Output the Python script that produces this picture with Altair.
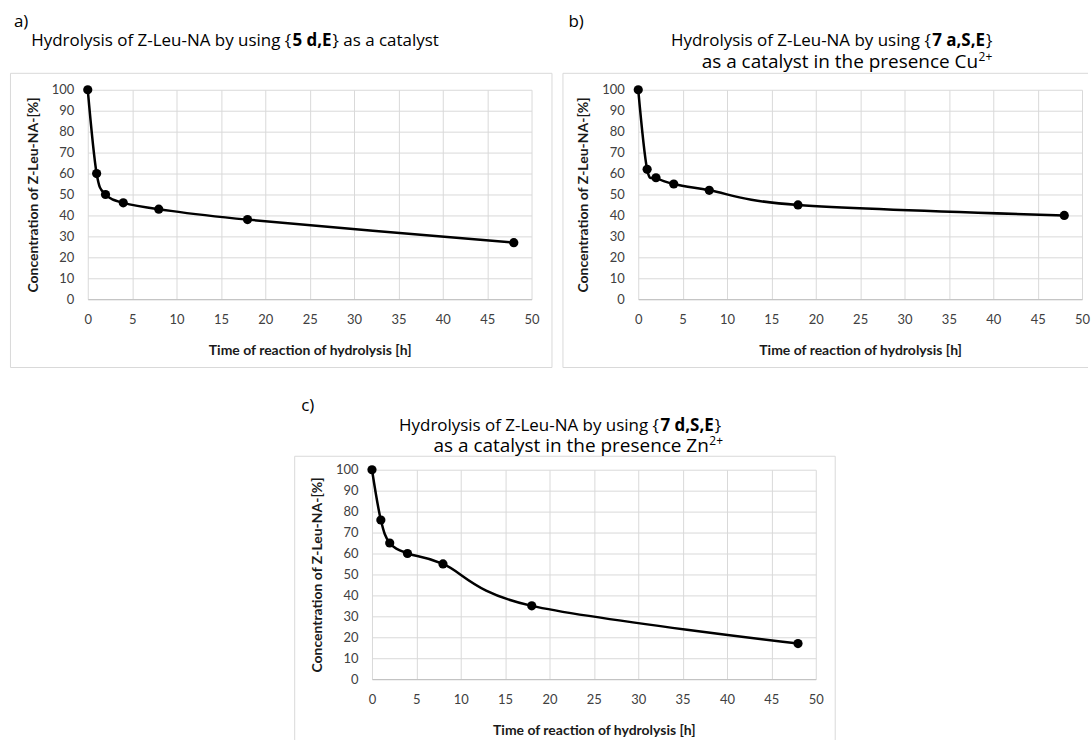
import altair as alt
import pandas as pd

# Hydrolysis time points [h] and remaining substrate concentration [%]
hours = [0, 1, 2, 4, 8, 18, 48]
conc_5dE = [100, 60, 50, 46, 43, 38, 27]
conc_7aSE_cu = [100, 62, 58, 55, 52, 45, 40]
conc_7dSE_zn = [100, 76, 65, 60, 55, 35, 17]

x_ticks = [0, 5, 10, 15, 20, 25, 30, 35, 40, 45, 50]
y_ticks = [0, 10, 20, 30, 40, 50, 60, 70, 80, 90, 100]

X_TITLE = "Time of reaction of hydrolysis [h]"
Y_TITLE = "Concentration of Z-Leu-NA-[%]"

PLOT_W, PLOT_H = 445, 210
TITLE_FONT = "Open Sans"
AXIS_FONT = "Lato"
BOX_COLOR = "#d9d9d9"
T1, T2, SUP = 17, 19, 12

ONE = pd.DataFrame({"k": [0]})

# Open Sans advance widths (units per 2048 em) used to butt text runs together
_REG = {" ": 532, ",": 502, "{": 760, "}": 760, "2": 1171, "+": 1171}
_BOLD = {" ": 532, ",": 586, "5": 1171, "7": 1171, "E": 1182, "S": 1149,
         "a": 1221, "d": 1300}


def run_width(s, size, bold=False):
    table = _BOLD if bold else _REG
    return sum(table.get(ch, 1150) for ch in s) * size / 2048.0


def text(origin, x, y, s, size=T1, weight="normal", align="left"):
    ox, oy = origin
    return alt.Chart(ONE).mark_text(
        align=align, baseline="alphabetic", fontSize=size,
        fontWeight=weight, font=TITLE_FONT, color="#000000",
    ).encode(x=alt.value(x - ox), y=alt.value(y - oy), text=alt.value(s))


def headline(origin, right, y, bold_part, tail="}", tail_width=None):
    # "Hydrolysis ... {" + bold compound + tail, right-aligned at `right`
    if tail_width is None:
        tail_width = run_width(tail, T1)
    end_bold = right - tail_width - 1
    start_bold = end_bold - run_width(bold_part, T1, bold=True) - 1
    return [
        text(origin, right, y, tail, align="right"),
        text(origin, end_bold, y, bold_part, weight="bold", align="right"),
        text(origin, start_bold, y, "Hydrolysis of Z-Leu-NA by using {",
             align="right"),
    ]


def second_line(origin, right, y, body):
    w_sup = run_width("2+", SUP)
    return [
        text(origin, right, y - 7, "2+", size=SUP, align="right"),
        text(origin, right - w_sup - 0.5, y, body, size=T2, align="right"),
    ]


def rule(origin, x1, y1, x2, y2):
    ox, oy = origin
    return alt.Chart(ONE).mark_rule(color=BOX_COLOR, strokeWidth=1).encode(
        x=alt.value(x1 - ox), x2=alt.value(x2 - ox),
        y=alt.value(y1 - oy), y2=alt.value(y2 - oy),
    )


def cell(origin, x1, y1, x2, y2):
    # invisible rectangle that fixes the extent of a panel in the layout
    ox, oy = origin
    return alt.Chart(ONE).mark_rect(opacity=0).encode(
        x=alt.value(x1 - ox), x2=alt.value(x2 - ox),
        y=alt.value(y1 - oy), y2=alt.value(y2 - oy),
    )


def curve(values):
    df = pd.DataFrame({"t": hours, "c": values})
    x = alt.X("t:Q", scale=alt.Scale(domain=[0, 50], nice=False),
              axis=alt.Axis(values=x_ticks, title=X_TITLE, labelPadding=14,
                            titlePadding=17, labelFlush=False,
                            labelOverlap=False))
    y = alt.Y("c:Q", scale=alt.Scale(domain=[0, 100], nice=False),
              axis=alt.Axis(values=y_ticks, title=Y_TITLE, domain=False,
                            labelPadding=14, titlePadding=11,
                            labelOverlap=False, labelFlush=False))
    base = alt.Chart(df)
    line = base.mark_line(interpolate="cardinal", color="#000000",
                          strokeWidth=2.5).encode(x=x, y=y)
    dots = base.mark_circle(size=85, color="#000000", opacity=1).encode(
        x=x, y=y)
    return [line, dots]


# panel a
oa = (87, 88)
TAIL_A = "} as a catalyst"
panel_a = alt.layer(
    cell(oa, 0, 0, 557, 380),
    rule(oa, 9.5, 71.5, 552.5, 71.5),
    rule(oa, 9.5, 366.5, 552.5, 366.5),
    rule(oa, 9.5, 71.5, 9.5, 366.5),
    rule(oa, 552.5, 71.5, 552.5, 366.5),
    text(oa, 13, 25, "a)"),
    *headline(oa, 439, 44, "5 d,E", tail=TAIL_A, tail_width=106.5 * T1 / 17),
    *curve(conc_5dE),
).properties(width=PLOT_W, height=PLOT_H)

# panel b
ob = (637, 88)
panel_b = alt.layer(
    cell(ob, 557, 0, 1088, 380),
    rule(ob, 561.5, 71.5, 1088, 71.5),
    rule(ob, 561.5, 366.5, 1088, 366.5),
    rule(ob, 561.5, 71.5, 561.5, 366.5),
    text(ob, 567, 25, "b)"),
    *headline(ob, 992, 44, "7 a,S,E"),
    *second_line(ob, 992, 66, "as a catalyst in the presence Cu"),
    *curve(conc_7aSE_cu),
).properties(width=PLOT_W, height=PLOT_H)

# panel c
oc = (370, 467)
panel_c = alt.layer(
    cell(oc, 88, 380, 840, 738),
    rule(oc, 292.5, 453.5, 834.5, 453.5),
    rule(oc, 292.5, 453.5, 292.5, 738),
    rule(oc, 834.5, 453.5, 834.5, 738),
    text(oc, 299, 408, "c)"),
    *headline(oc, 720, 428, "7 d,S,E"),
    *second_line(oc, 722, 449, "as a catalyst in the presence Zn"),
    *curve(conc_7dSE_zn),
).properties(width=PLOT_W, height=PLOT_H)

# tiny empty view that pushes panel c to the right within the bottom row
spacer = alt.Chart(ONE).mark_rect(opacity=0).encode(
    x=alt.value(0), x2=alt.value(1), y=alt.value(0), y2=alt.value(1)
).properties(width=1, height=1)

chart = alt.vconcat(
    alt.hconcat(panel_a, panel_b, spacing=0),
    alt.hconcat(spacer, panel_c, spacing=0),
    spacing=0,
    padding=0,
).configure_view(
    stroke="transparent"
).configure_axis(
    labelFont=AXIS_FONT, labelFontSize=13, labelColor="#404040",
    titleFont=AXIS_FONT, titleFontSize=14, titleFontWeight="bold",
    titleColor="#1a1a1a", gridColor="#d9d9d9", domainColor="#bfbfbf",
    ticks=False,
)

chart.save("out.html", embed_options={"renderer": "svg", "actions": False})
